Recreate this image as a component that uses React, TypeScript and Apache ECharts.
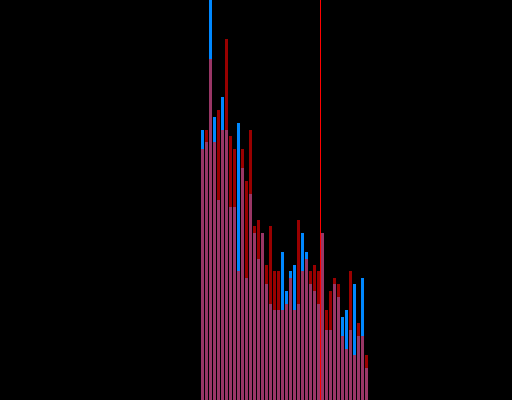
import React, { useEffect, useRef } from "react";
import * as echarts from "echarts";

const categories: string[] = Array.from({ length: 42 }, (_, i) => String(i + 1));

const blueValues: number[] = [
  270, 258, 400, 283, 200, 303, 270, 193, 193, 277, 232, 122, 206, 167, 141, 167, 116, 96, 90, 90, 148,
  109, 129, 135, 96, 167, 148, 116, 109, 96, 167, 70, 70, 116, 103, 83, 90, 70, 116, 64, 122, 32,
];

const redValues: number[] = [
  251, 270, 341, 258, 290, 270, 361, 264, 251, 129, 251, 219, 270, 174, 180, 167, 135, 174, 129, 129, 90,
  96, 122, 90, 180, 129, 141, 129, 135, 129, 167, 90, 109, 122, 116, 64, 51, 129, 45, 77, 64, 45,
];

const markerPosition = 30;

export default function App() {
  const ref = useRef<HTMLDivElement>(null);
  useEffect(() => {
    if (!ref.current) return;
    const chart = echarts.init(ref.current, null, { renderer: "svg" });
    chart.setOption({
      animation: false,
      backgroundColor: "#000000",
      grid: { left: 200.5, width: 168, top: 0, bottom: 0 },
      xAxis: [
        { type: "category", data: categories, show: false, boundaryGap: true },
        { type: "value", min: 0, max: categories.length, show: false },
      ],
      yAxis: { type: "value", min: 0, max: 400, show: false, splitLine: { show: false } },
      series: [
        {
          type: "bar",
          data: blueValues,
          barWidth: 3,
          barGap: "-100%",
          itemStyle: { color: "#0088ff" },
        },
        {
          type: "bar",
          data: redValues,
          barWidth: 3,
          barGap: "-100%",
          itemStyle: { color: "#ff0000", opacity: 0.6 },
        },
        {
          type: "line",
          xAxisIndex: 1,
          data: [],
          silent: true,
          markLine: {
            silent: true,
            symbol: "none",
            label: { show: false },
            lineStyle: { color: "#ff0000", width: 1, type: "solid", opacity: 1 },
            data: [{ xAxis: markerPosition }],
          },
        },
      ],
    });
    return () => chart.dispose();
  }, []);
  return (
    <div
      ref={ref}
      style={{ position: "fixed", left: 0, top: 0, width: 512, height: 400 }}
    />
  );
}
